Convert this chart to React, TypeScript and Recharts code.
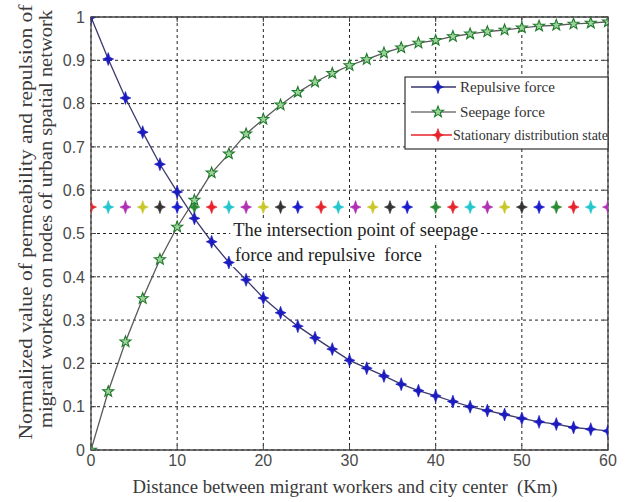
import {
  CartesianGrid,
  ComposedChart,
  Label,
  Line,
  ReferenceArea,
  ReferenceDot,
  Scatter,
  XAxis,
  YAxis,
} from "recharts";

const distanceKm = [
  0, 2, 4, 6, 8, 10, 12, 14, 16, 18, 20, 22, 24, 26, 28, 30, 32, 34, 36, 38,
  40, 42, 44, 46, 48, 50, 52, 54, 56, 58, 60,
];
const repulsiveForce = [
  1, 0.903, 0.813, 0.734, 0.66, 0.596, 0.535, 0.481, 0.433, 0.393, 0.351,
  0.317, 0.286, 0.259, 0.233, 0.207, 0.189, 0.171, 0.152, 0.137, 0.125, 0.112,
  0.1, 0.091, 0.082, 0.073, 0.065, 0.06, 0.052, 0.048, 0.044,
];
const seepageForce = [
  0, 0.135, 0.25, 0.35, 0.44, 0.515, 0.577, 0.64, 0.684, 0.73, 0.764, 0.797,
  0.826, 0.85, 0.87, 0.888, 0.902, 0.917, 0.929, 0.94, 0.946, 0.955, 0.961,
  0.966, 0.97, 0.975, 0.979, 0.981, 0.984, 0.986, 0.989,
];
const stationaryKm = [
  0, 2, 4, 6, 8, 10, 12, 14, 16, 18, 20, 22, 24, 26.7, 28.7, 30.7, 32.7, 34.7,
  36.7, 40, 42, 44, 46, 48, 50, 52, 54, 56, 58, 60,
];
const stationaryLevel = 0.561;
const stationaryColors = [
  "r", "c", "m", "y", "k", "b", "g", "r", "c", "m", "y", "k", "b",
  "r", "c", "m", "y", "k", "b",
  "g", "r", "c", "m", "y", "k", "b", "g", "r", "c", "m",
];
const xTicks = [0, 10, 20, 30, 40, 50, 60];
const yTicks = [0, 0.1, 0.2, 0.3, 0.4, 0.5, 0.6, 0.7, 0.8, 0.9, 1];

const palette: Record<string, string> = {
  r: "#e8232b",
  c: "#22c6cc",
  m: "#b02fb4",
  y: "#c9c72a",
  k: "#333333",
  b: "#1b1bd0",
  g: "#2b8a34",
};

const repulsiveRows = distanceKm.map((x, i) => ({ x, y: repulsiveForce[i] }));
const seepageRows = distanceKm.map((x, i) => ({ x, y: seepageForce[i] }));
const stationaryRows = stationaryKm.map((x, i) => ({
  x,
  y: stationaryLevel,
  color: palette[stationaryColors[i]],
}));

const serif = "'Liberation Serif', 'Times New Roman', serif";
const sans = "'Liberation Sans', Arial, sans-serif";

// plot box, in px
const LEFT = 91;
const TOP = 17;
const RIGHT = 608;
const BOTTOM = 450;

function Sparkle({ cx, cy, color }: { cx: number; cy: number; color: string }) {
  const d = `M${cx},${cy - 6.5} L${cx + 1.7},${cy - 1.7} L${cx + 5.5},${cy} L${cx + 1.7},${cy + 1.7} L${cx},${cy + 6.5} L${cx - 1.7},${cy + 1.7} L${cx - 5.5},${cy} L${cx - 1.7},${cy - 1.7} Z`;
  return <path d={d} fill={color} stroke={color} strokeWidth={0.6} />;
}

function Pentagram({ cx, cy }: { cx: number; cy: number }) {
  const pts: string[] = [];
  for (let k = 0; k < 10; k++) {
    const r = k % 2 === 0 ? 5.8 : 2.4;
    const a = -Math.PI / 2 + (k * Math.PI) / 5;
    pts.push(`${cx + r * Math.cos(a)},${cy + r * Math.sin(a)}`);
  }
  return (
    <polygon points={pts.join(" ")} fill="#9bd49b" stroke="#1f7a2a" strokeWidth={1.1} />
  );
}

function XTick(props: any) {
  const { x, y, payload } = props;
  return (
    <g>
      <line x1={x} y1={BOTTOM} x2={x} y2={BOTTOM - 5} stroke="#444" />
      <line x1={x} y1={TOP} x2={x} y2={TOP + 5} stroke="#444" />
      <text x={x} y={y} dy="0.71em" textAnchor="middle" fontSize={16} fontFamily={sans} fill="#4a4a4a">
        {payload.value}
      </text>
    </g>
  );
}

function YTick(props: any) {
  const { x, y, payload } = props;
  return (
    <g>
      <line x1={LEFT} y1={y} x2={LEFT + 5} y2={y} stroke="#444" />
      <line x1={RIGHT} y1={y} x2={RIGHT - 5} y2={y} stroke="#444" />
      <text x={x} y={y} dy="0.36em" textAnchor="end" fontSize={16} fontFamily={sans} fill="#4a4a4a">
        {payload.value}
      </text>
    </g>
  );
}

// annotation text drawn on a white box, like the figure's text object
function noteLabel(text: string, width: number) {
  return (props: any) => {
    const vb = props.viewBox;
    return (
      <g>
        <rect x={vb.x - 3} y={vb.y - 12} width={width + 6} height={24} fill="#fff" />
        <text
          x={vb.x}
          y={vb.y}
          dominantBaseline="central"
          fontSize={18}
          fontFamily={serif}
          fill="#222"
          textLength={width}
          lengthAdjust="spacingAndGlyphs"
          style={{ whiteSpace: "pre" }}
        >
          {text}
        </text>
      </g>
    );
  };
}

export default function App() {
  return (
    <div style={{ position: "absolute", left: 0, top: 0, width: 625, height: 502, background: "#fff" }}>
      <ComposedChart
        width={625}
        height={502}
        margin={{ top: TOP, right: 625 - RIGHT, bottom: 502 - BOTTOM - 30, left: LEFT - 40 }}
      >
        <CartesianGrid stroke="#222" strokeDasharray="3 3" strokeWidth={1} />
        <XAxis
          dataKey="x"
          type="number"
          domain={[0, 60]}
          ticks={xTicks}
          height={30}
          axisLine={false}
          tickLine={false}
          tickSize={0}
          tickMargin={5}
          tick={<XTick />}
          allowDataOverflow
        />
        <YAxis
          dataKey="y"
          type="number"
          domain={[0, 1]}
          ticks={yTicks}
          width={40}
          axisLine={false}
          tickLine={false}
          tickSize={0}
          tickMargin={6}
          tick={<YTick />}
          allowDataOverflow
        />
        <ReferenceArea x1={0} x2={60} y1={0} y2={1} fill="none" stroke="#444" strokeWidth={1.3} />
        <ReferenceDot x={16.5} y={0.508} r={0} fill="none" stroke="none">
          <Label content={noteLabel("The intersection point of seepage", 245)} />
        </ReferenceDot>
        <ReferenceDot x={16.7} y={0.45} r={0} fill="none" stroke="none">
          <Label content={noteLabel("force and repulsive  force", 187)} />
        </ReferenceDot>
        <Scatter
          data={stationaryRows}
          dataKey="y"
          isAnimationActive={false}
          shape={(p: any) => <Sparkle cx={p.cx} cy={p.cy} color={p.payload.color} />}
        />
        <Line
          data={seepageRows}
          dataKey="y"
          type="linear"
          stroke="#5a5a5a"
          strokeWidth={1.3}
          isAnimationActive={false}
          dot={(p: any) => <Pentagram key={`s${p.index}`} cx={p.cx} cy={p.cy} />}
        />
        <Line
          data={repulsiveRows}
          dataKey="y"
          type="linear"
          stroke="#3a3a6e"
          strokeWidth={1.3}
          isAnimationActive={false}
          dot={(p: any) => <Sparkle key={`r${p.index}`} cx={p.cx} cy={p.cy} color="#1b1bc0" />}
        />
      </ComposedChart>
      <svg
        width={625}
        height={502}
        style={{ position: "absolute", left: 0, top: 0, pointerEvents: "none" }}
      >
        <g fontFamily={serif} fill="#3a3a3a">
          <text
            transform="translate(26,222) rotate(-90)"
            textAnchor="middle"
            dominantBaseline="central"
            fontSize={18}
            textLength={435}
            lengthAdjust="spacingAndGlyphs"
          >
            Normalized value of permeability and repulsion of
          </text>
          <text
            transform="translate(46,219) rotate(-90)"
            textAnchor="middle"
            dominantBaseline="central"
            fontSize={18}
            textLength={418}
            lengthAdjust="spacingAndGlyphs"
          >
            migrant workers on nodes of urban spatial network
          </text>
          <text
            x={345}
            y={487}
            textAnchor="middle"
            dominantBaseline="central"
            fontSize={18}
            textLength={425}
            lengthAdjust="spacingAndGlyphs"
            style={{ whiteSpace: "pre" }}
          >
            Distance between migrant workers and city center  (Km)
          </text>
        </g>
        <g>
          <rect x={405} y={77} width={203} height={72} fill="#fff" stroke="#333" strokeWidth={1.2} />
          <line x1={411} y1={87} x2={456} y2={87} stroke="#3a3a6e" strokeWidth={1.3} />
          <Sparkle cx={438} cy={87} color="#1b1bc0" />
          <line x1={411} y1={112} x2={456} y2={112} stroke="#777" strokeWidth={1.3} />
          <Pentagram cx={438} cy={112} />
          <line x1={411} y1={135} x2={452} y2={135} stroke="#e8232b" strokeWidth={1.3} />
          <Sparkle cx={438} cy={135} color="#e8232b" />
          <g fontFamily={serif} fontSize={14} fill="#333">
            <text x={460} y={87} dominantBaseline="central" textLength={95} lengthAdjust="spacingAndGlyphs">
              Repulsive force
            </text>
            <text x={460} y={112} dominantBaseline="central" textLength={85} lengthAdjust="spacingAndGlyphs">
              Seepage force
            </text>
            <text x={453} y={135} dominantBaseline="central" textLength={155} lengthAdjust="spacingAndGlyphs">
              Stationary distribution state
            </text>
          </g>
        </g>
      </svg>
    </div>
  );
}
